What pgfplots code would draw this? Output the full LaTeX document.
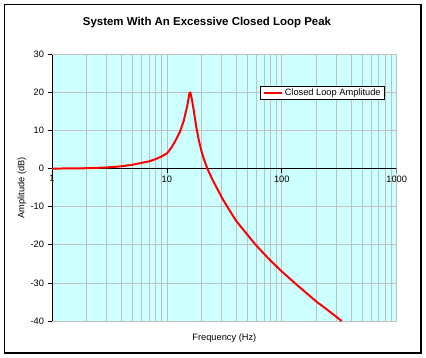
\documentclass[border=0pt]{standalone}
\usepackage{fontspec}
\setmainfont{Liberation Sans}
\usepackage{pgfplots}
\pgfplotsset{compat=1.18}
\definecolor{plotbg}{RGB}{204,255,255}
\definecolor{gridgray}{RGB}{192,192,192}
\begin{document}
\begin{tikzpicture}[x=1bp,y=1bp]
\useasboundingbox (0,0) rectangle (426,358);
\draw[black, line width=1.2bp] (4.5,5) rectangle (421,353.5);
\node[font=\bfseries\fontsize{11.5}{13}\selectfont] at (207,335) {System With An Excessive Closed Loop Peak};
\begin{axis}[
  at={(52bp,37bp)}, anchor=south west,
  scale only axis,
  width=344.7bp, height=266.7bp,
  xmode=log, xmin=1, xmax=1000, ymin=-40, ymax=30,
  axis background/.style={fill=plotbg},
  axis x line*=middle, axis y line*=left,
  hide obscured x ticks=false, hide obscured y ticks=false,
  axis line style={-, black, line width=0.8bp},
  xtick={1,10,100,1000}, xticklabels={1,10,100,1000},
  minor xtick={2,3,4,5,6,7,8,9,20,30,40,50,60,70,80,90,200,300,400,500,600,700,800,900},
  minor tick length=0pt,
  ytick={-40,-30,-20,-10,0,10,20,30},
  yticklabels={-40,-30,-20,-10,0,10,20,30},
  tick align=outside, major tick length=4.5bp,
  tick style={black, line width=0.8bp},
  xmajorgrids, xminorgrids, ymajorgrids,
  grid style={gridgray, line width=0.8bp},
  minor grid style={gridgray, line width=0.8bp},
  tick label style={font=\fontsize{9.3}{11}\selectfont},
  xticklabel style={yshift=1bp},
  xlabel={Frequency (Hz)}, ylabel={Amplitude (dB)},
  label style={font=\fontsize{9.3}{11}\selectfont},
  xlabel style={at={(axis description cs:0.5,0)}, anchor=center, yshift=-16.7bp},
  ylabel style={at={(axis description cs:-0.087,0.5)}, anchor=center, rotate=0},
  legend style={at={(axis description cs:0.966,0.881)}, anchor=north east,
    draw=black, fill=white, line width=0.8bp, font=\fontsize{9.3}{11}\selectfont,
    inner xsep=2bp, inner ysep=0.5bp},
  legend cell align=left,
  legend image code/.code={\draw[#1, line width=2bp] (0bp,0bp) -- (18bp,0bp);},
  clip=true,
]
\draw[gridgray, line width=0.8bp] (rel axis cs:0,1) -- (rel axis cs:1,1) -- (rel axis cs:1,0) -- (rel axis cs:0,0);
\addplot[red, line width=2bp, line join=round] coordinates {
(1,0) (2,0.1) (3,0.3) (4,0.6) (5,1.0) (6,1.5) (7,1.9) (8,2.5) (9,3.2) (10,4.0)
(11,5.6) (12,7.6) (13,9.7) (14,12.5) (15,16.3) (15.7,19.8) (16,20) (16.5,18.2)
(17,15.9) (18,11.0) (19,7.3) (20,4.6) (21,2.5) (22.5,0) (25,-3.0) (30.6,-8.0)
(35,-10.9) (40,-13.7) (50,-17.3) (60,-20.2) (80,-24.2) (100,-27.0) (135,-30.5)
(200,-34.9) (250,-37.1) (332,-40)
};
\addlegendentry{Closed Loop Amplitude}
\end{axis}
\end{tikzpicture}
\end{document}
